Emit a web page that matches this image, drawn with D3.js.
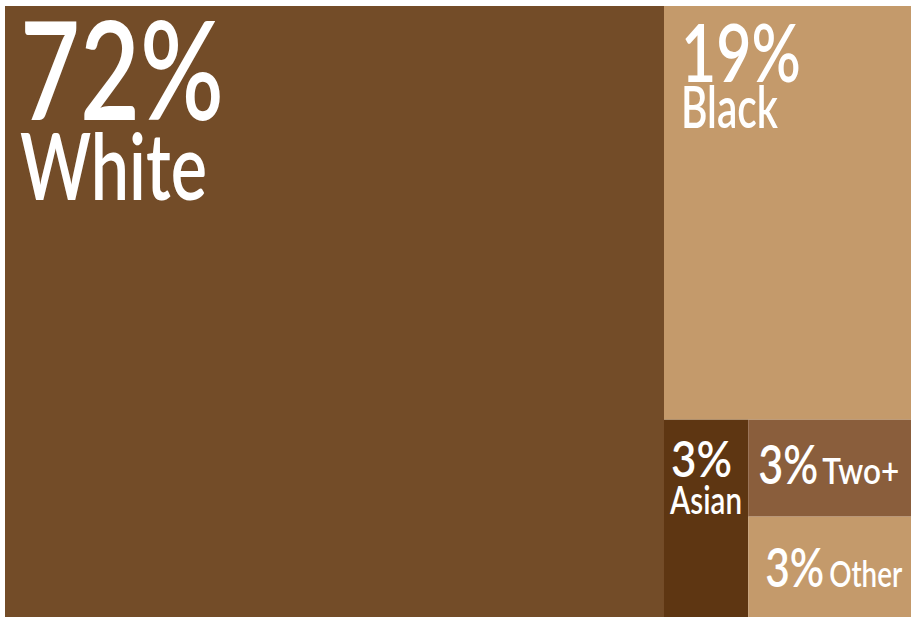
<!DOCTYPE html>
<html>
<head>
<meta charset="utf-8">
<script src="https://cdn.jsdelivr.net/npm/d3@7"></script>
<style>
  html, body { margin: 0; padding: 0; background: #ffffff; }
  svg { display: block; }
  text { font-family: "Lato", "DejaVu Sans", sans-serif; font-weight: 600; fill: #ffffff; }
</style>
</head>
<body>
<svg id="chart" width="911" height="617"></svg>
<script>
// ---- data ----
const categories = ["White", "Black", "Asian", "Two+", "Other"];
const shares = [72.7, 18.45, 3.0, 2.85, 2.95];
const pctLabels = ["72%", "19%", "3%", "3%", "3%"];

// ---- styles ----
const colors = {
  "White": "#734c28",
  "Black": "#c49a6b",
  "Asian": "#5e3612",
  "Two+": "#8a5e3c",
  "Other": "#c49a6b"
};
// label placement relative to each cell's top-left corner
const labelStyle = {
  "White": { stacked: true,  dx: 15, pctSize: 136, pctBase: 114, pctW: 204, nameDx: 15, nameSize: 93, nameBase: 194, nameW: 187 },
  "Black": { stacked: true,  dx: 17, pctSize: 81,  pctBase: 76,  pctW: 120, nameDx: 17, nameSize: 57, nameBase: 122, nameW: 97 },
  "Asian": { stacked: true,  dx: 7,  pctSize: 50,  pctBase: 57,  pctW: 61,  nameDx: 6,  nameSize: 39, nameBase: 94,  nameW: 72 },
  "Two+":  { stacked: false, dx: 10, pctSize: 53,  pctBase: 64,  pctW: 60,  nameGap: 4, nameSize: 36, nameW: 77 },
  "Other": { stacked: false, dx: 17, pctSize: 53,  pctBase: 70,  pctW: 59,  nameGap: 5, nameSize: 36, nameW: 73 }
};

const W = 911, H = 617;
const margin = { top: 6, right: 0, bottom: 0, left: 5 };

const svg = d3.select("#chart");

const root = d3.hierarchy({
  children: categories.map((c, i) => ({ name: c, value: shares[i], label: pctLabels[i] }))
}).sum(d => d.value || 0);

d3.treemap()
  .tile(d3.treemapBinary)
  .size([W - margin.left - margin.right, H - margin.top - margin.bottom])
  .round(false)(root);

const g = svg.append("g").attr("transform", `translate(${margin.left},${margin.top})`);

const cell = g.selectAll("g.cell")
  .data(root.leaves())
  .join("g")
  .attr("class", "cell")
  .attr("transform", d => `translate(${d.x0},${d.y0})`);

cell.append("rect")
  .attr("width", d => d.x1 - d.x0)
  .attr("height", d => d.y1 - d.y0)
  .attr("fill", d => colors[d.data.name]);

// place a text so its advance width fits the target width (horizontal condensing)
function fitText(sel, str, x, y, size, targetW) {
  const t = sel.append("text")
    .attr("font-size", size)
    .text(str);
  const w = t.node().getComputedTextLength() || targetW;
  const k = targetW / w;
  t.attr("transform", `translate(${x},${y}) scale(${k},1)`);
  return t;
}

cell.each(function(d) {
  const s = labelStyle[d.data.name];
  const sel = d3.select(this);
  fitText(sel, d.data.label, s.dx, s.pctBase, s.pctSize, s.pctW);
  if (s.stacked) {
    fitText(sel, d.data.name, s.nameDx, s.nameBase, s.nameSize, s.nameW);
  } else {
    fitText(sel, d.data.name, s.dx + s.pctW + s.nameGap, s.pctBase, s.nameSize, s.nameW);
  }
});
</script>
</body>
</html>
